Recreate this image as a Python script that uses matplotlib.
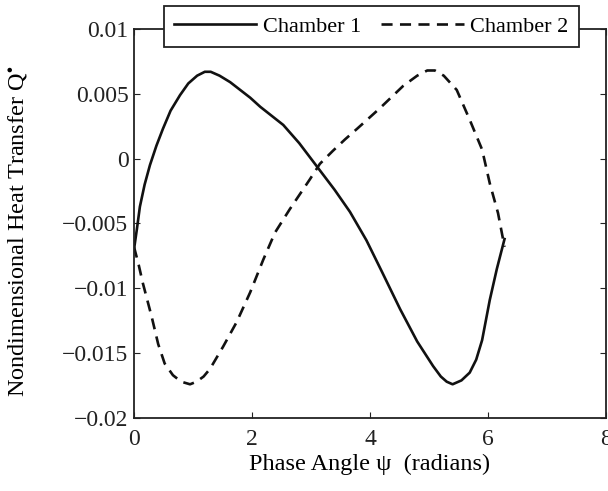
import numpy as np
import matplotlib
matplotlib.use("Agg")
import matplotlib.pyplot as plt

# values
phase_1 = [0.0, 0.05, 0.1, 0.18, 0.27, 0.38, 0.49, 0.62, 0.78, 0.92, 1.07, 1.2,
           1.3, 1.45, 1.63, 1.97, 2.14, 2.53, 2.8, 3.1, 3.4, 3.66, 3.94, 4.2,
           4.51, 4.8, 5.07, 5.2, 5.3, 5.4, 5.55, 5.69, 5.8, 5.9, 6.03, 6.15, 6.28]
chamber_1 = [-0.0070, -0.0054, -0.0037, -0.0020, -0.0005, 0.0010, 0.0023, 0.0037,
             0.0049, 0.0058, 0.0064, 0.0067, 0.0067, 0.0064, 0.0059, 0.0047,
             0.0040, 0.0026, 0.0012, -0.0006, -0.0024, -0.0041, -0.0063, -0.0087,
             -0.0116, -0.0141, -0.0160, -0.0168, -0.0172, -0.0174, -0.0171,
             -0.0165, -0.0155, -0.0140, -0.0109, -0.0085, -0.0062]

phase_2 = [0.0, 0.08, 0.15, 0.3, 0.41, 0.52, 0.66, 0.8, 0.95, 1.06, 1.18, 1.29,
           1.51, 1.74, 1.97, 2.19, 2.39, 2.64, 2.98, 3.15, 3.37, 3.58, 3.78, 4.17,
           4.56, 4.8, 4.97, 5.1, 5.25, 5.47, 5.69, 5.9, 6.03, 6.17, 6.28]
chamber_2 = [-0.0068, -0.0082, -0.0096, -0.0122, -0.0143, -0.0158, -0.0167,
             -0.0172, -0.0174, -0.0172, -0.0168, -0.0162, -0.0145, -0.0126,
             -0.0103, -0.0078, -0.0057, -0.0039, -0.0016, -0.0004, 0.0006, 0.0015,
             0.0023, 0.0039, 0.0056, 0.0064, 0.0068, 0.0068, 0.0064, 0.0053,
             0.0030, 0.0007, -0.0019, -0.0042, -0.0068]

xticks = [0, 2, 4, 6, 8]
yticks = [-0.02, -0.015, -0.01, -0.005, 0, 0.005, 0.01]
ytick_labels = ["\u22120.02", "\u22120.015", "\u22120.01", "\u22120.005", "0", "0.005", "0.01"]
series_names = ["Chamber 1", "Chamber 2"]

plt.rcParams["font.family"] = ["Liberation Serif", "DejaVu Serif"]
plt.rcParams["mathtext.fontset"] = "stix"

fig = plt.figure(figsize=(6.08, 4.91), dpi=100)
ax = fig.add_axes([134 / 608, 1 - 418 / 491, 472 / 608, 389 / 491])

ax.plot(phase_1, chamber_1, color="#111111", lw=1.9, label=series_names[0])
ax.plot(phase_2, chamber_2, color="#111111", lw=1.9, dashes=(4.2, 2.8),
        label=series_names[1])

ax.set_xlim(0, 8)
ax.set_ylim(-0.02, 0.01)
ax.set_xticks(xticks)
ax.set_xticklabels([str(t) for t in xticks])
ax.set_yticks(yticks)
ax.set_yticklabels(ytick_labels)
ax.tick_params(direction="in", length=4, width=0.8, top=True, right=True,
               labelsize=17, colors="#222222")
ax.tick_params(axis="x", pad=8)
ax.tick_params(axis="y", pad=4)
for s in ax.spines.values():
    s.set_linewidth(1.3)
    s.set_color("#222222")

ax.set_xlabel("Phase Angle \u03c8  (radians)", fontsize=17.5)
ax.set_ylabel("Nondimensional Heat Transfer Q$^{\\bullet}$", fontsize=17.5)
ax.xaxis.set_label_coords(0.5, -0.092)
ax.yaxis.set_label_coords(-0.222, 0.48)

leg = ax.legend(loc="upper center", bbox_to_anchor=(0.503, 1.059), ncol=2,
                fontsize=16, frameon=True, fancybox=False, framealpha=1,
                edgecolor="#222222", handlelength=3.7, handletextpad=0.3,
                columnspacing=0.9, borderpad=0.45, borderaxespad=0)
leg.get_frame().set_linewidth(1.3)

fig.savefig("out.png", dpi=100)
